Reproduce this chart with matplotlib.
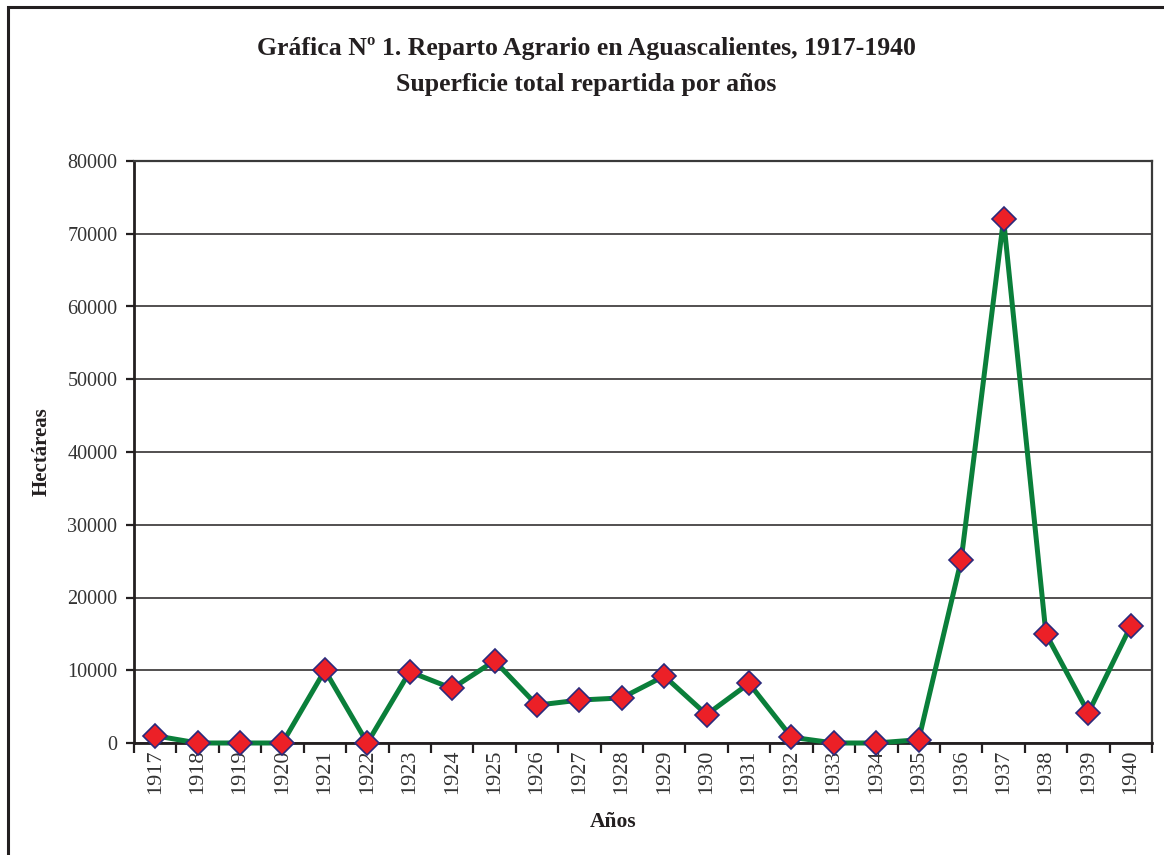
import matplotlib
matplotlib.use("Agg")
import matplotlib.pyplot as plt
from matplotlib.patches import Rectangle
import numpy as np

years = ["1917", "1918", "1919", "1920", "1921", "1922", "1923", "1924", "1925", "1926",
         "1927", "1928", "1929", "1930", "1931", "1932", "1933", "1934", "1935", "1936",
         "1937", "1938", "1939", "1940"]
hectareas = [1000, 0, 0, 0, 10000, 0, 9800, 7500, 11300, 5200,
             5900, 6200, 9200, 3900, 8200, 800, 0, 0, 450, 25100,
             72000, 15000, 4150, 16100]
yticks = [0, 10000, 20000, 30000, 40000, 50000, 60000, 70000, 80000]

title1 = "Gráfica Nº 1. Reparto Agrario en Aguascalientes, 1917-1940"
title2 = "Superficie total repartida por años"
xlabel = "Años"
ylabel = "Hectáreas"

serif = ["Liberation Serif", "DejaVu Serif"]
plt.rcParams["font.family"] = serif

fig = plt.figure(figsize=(11.64, 8.55), dpi=100)
ax = fig.add_axes([134/1164, 1-743/855, (1152-134)/1164, (743-161)/855])

# figure border (left and top visible)
fig.patches.append(Rectangle((8/1164, -0.1), 1.2, 1 - 7/855 + 0.1, transform=fig.transFigure,
                             fill=False, edgecolor="#231f20", linewidth=2.2, clip_on=False))

x = np.arange(len(years))
ax.plot(x, hectareas, color="#0a7f3a", linewidth=3.6, zorder=3,
        marker="D", markersize=12.5, markerfacecolor="#ec2027",
        markeredgecolor="#2b2a7c", markeredgewidth=1.2, clip_on=False)

ax.set_xlim(-0.5, len(years) - 0.5)
ax.set_ylim(0, 80000)
ax.set_yticks(yticks)
ax.set_yticklabels([str(v) for v in yticks])
ax.set_xticks(x)
ax.set_xticklabels(years, rotation=90)
ax.set_xticks(np.arange(-0.5, len(years), 1), minor=True)
ax.tick_params(axis="x", which="major", length=0, pad=5, labelsize=16, labelcolor="#333333")
ax.tick_params(axis="x", which="minor", length=7, width=1.6, direction="out", color="#231f20")
ax.tick_params(axis="y", length=6, width=1.6, direction="out", color="#231f20",
               labelsize=14.5, labelcolor="#333333", pad=6)

ax.yaxis.grid(True, color="#231f20", linewidth=1.1)
ax.set_axisbelow(True)
for s in ["left", "bottom"]:
    ax.spines[s].set_linewidth(2.0)
    ax.spines[s].set_color("#231f20")
for s in ["top", "right"]:
    ax.spines[s].set_linewidth(1.6)
    ax.spines[s].set_color("#3a3a3a")

ax.set_xlabel(xlabel, fontsize=15.5, fontweight="bold", color="#231f20")
ax.set_ylabel(ylabel, fontsize=15, fontweight="bold", color="#231f20")
ax.xaxis.set_label_coords((613-134)/1018, -(822-743)/582)
ax.yaxis.set_label_coords(-(134-42)/1018, (743-452)/582)
ax.xaxis.label.set_va("center")
ax.yaxis.label.set_va("center")

fig.text(586/1164, 1-48/855, title1, ha="center", va="center", fontsize=18.5,
         fontweight="bold", color="#231f20")
fig.text(586/1164, 1-85/855, title2, ha="center", va="center", fontsize=18.5,
         fontweight="bold", color="#231f20")

fig.savefig("out.png", dpi=100)
